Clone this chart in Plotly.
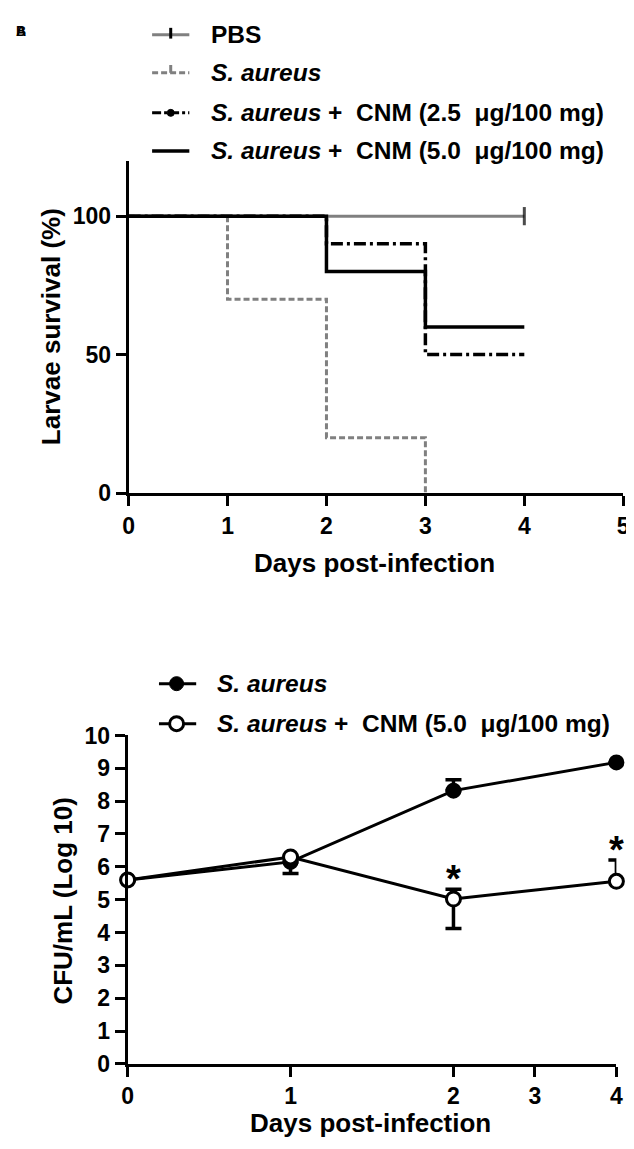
import numpy as np
import plotly.graph_objects as go

# ---------------- data ----------------
# Panel A: survival (%) of larvae
surv_days = [0, 1, 2, 3, 4]
pbs_surv = [100, 100, 100, 100, 100]
sa_days = [0, 1, 2, 3]
sa_surv = [100, 70, 20, 0]
cnm25_surv = [100, 100, 90, 50, 50]
cnm50_surv = [100, 100, 80, 60, 60]

# Panel B: CFU/mL (log10)
cfu_days = [0, 1, 2, 4]
sa_cfu = [5.6, 6.15, 8.32, 9.18]
sa_cfu_plus = [0, 0, 0.33, 0]
sa_cfu_minus = [0, 0.35, 0, 0]
cnm_cfu = [5.6, 6.3, 5.02, 5.56]
cnm_cfu_plus = [0, 0, 0.3, 0.65]
cnm_cfu_minus = [0, 0, 0.9, 0]
star_days = [2, 4]

top_xticks = [0, 1, 2, 3, 4, 5]
top_yticks = [0, 50, 100]
bot_xticks = [0, 1, 2, 3, 4]
bot_yticks = list(range(0, 11))

legend_a = ["<b>PBS</b>",
            "<b><i>S. aureus</i></b>",
            "<b><i>S. aureus</i> + \u00a0CNM (2.5 \u00a0\u03bcg/100 mg)</b>",
            "<b><i>S. aureus</i> + \u00a0CNM (5.0 \u00a0\u03bcg/100 mg)</b>"]
legend_b = ["<b><i>S. aureus</i></b>",
            "<b><i>S. aureus</i> + \u00a0CNM (5.0 \u00a0\u03bcg/100 mg)</b>"]

# the CFU x axis is drawn unevenly: days 0-2 wide, days 2-4 compressed
def bx(d):
    return np.interp(d, [0, 1, 2, 4], [0, 1, 2, 3])

W, H = 634, 1149
def px(x):
    return x / W
def py(y):
    return 1 - y / H

FONT = "Liberation Sans, Arial, sans-serif"
GREY = "#808080"
BLACK = "#000000"
TICK_FS = 23
TITLE_FS = 26
LEG_FS = 24.5

fig = go.Figure()

# ---------- Panel A traces ----------
fig.add_trace(go.Scatter(x=surv_days, y=pbs_surv, mode="lines+markers", line_shape="hv",
                         line=dict(color=GREY, width=3),
                         marker=dict(symbol="line-ns", size=[0, 0, 0, 0, 13],
                                     line=dict(color=BLACK, width=3)),
                         xaxis="x", yaxis="y", showlegend=False, cliponaxis=False))
fig.add_trace(go.Scatter(x=sa_days, y=sa_surv, mode="lines", line_shape="hv",
                         line=dict(color=GREY, width=3, dash="6px,3px"),
                         xaxis="x", yaxis="y", showlegend=False, cliponaxis=False))
fig.add_trace(go.Scatter(x=surv_days, y=cnm25_surv, mode="lines", line_shape="hv",
                         line=dict(color=BLACK, width=3.5, dash="12px,4px,3px,4px"),
                         xaxis="x", yaxis="y", showlegend=False, cliponaxis=False))
fig.add_trace(go.Scatter(x=surv_days, y=cnm50_surv, mode="lines", line_shape="hv",
                         line=dict(color=BLACK, width=3.5),
                         xaxis="x", yaxis="y", showlegend=False, cliponaxis=False))

# ---------- Panel B traces ----------
fig.add_trace(go.Scatter(x=bx(cfu_days), y=sa_cfu, mode="lines+markers",
                         line=dict(color=BLACK, width=3),
                         marker=dict(symbol="circle", size=14, color=BLACK,
                                     line=dict(color=BLACK, width=2)),
                         error_y=dict(type="data", array=sa_cfu_plus, arrayminus=sa_cfu_minus,
                                      symmetric=False, color=BLACK, thickness=3.5, width=8),
                         xaxis="x2", yaxis="y2", showlegend=False, cliponaxis=False))
fig.add_trace(go.Scatter(x=bx(cfu_days), y=cnm_cfu, mode="lines+markers",
                         line=dict(color=BLACK, width=3),
                         marker=dict(symbol="circle", size=14, color="white",
                                     line=dict(color=BLACK, width=3)),
                         error_y=dict(type="data", array=cnm_cfu_plus, arrayminus=cnm_cfu_minus,
                                      symmetric=False, color=BLACK, thickness=3.5, width=8),
                         xaxis="x2", yaxis="y2", showlegend=False, cliponaxis=False))

# significance stars above the CNM error bars
for d in star_days:
    k = cfu_days.index(d)
    fig.add_annotation(x=float(bx(d)), y=cnm_cfu[k] + cnm_cfu_plus[k], xref="x2", yref="y2",
                       text="<b>*</b>", showarrow=False, yanchor="middle", yshift=10,
                       font=dict(family=FONT, size=38, color=BLACK))

# ---------- manual legends ----------
shapes = []
def seg(y, color, dash=None, width=3, x0=141, x1=179):
    shapes.append(dict(type="line", xref="paper", yref="paper", x0=px(x0), x1=px(x1),
                       y0=py(y), y1=py(y), line=dict(color=color, width=width, dash=dash)))
def vtick(x, y0, y1, color=BLACK, width=3):
    shapes.append(dict(type="line", xref="paper", yref="paper", x0=px(x), x1=px(x),
                       y0=py(y0), y1=py(y1), line=dict(color=color, width=width)))
def dot(x, y, r, fill, lw):
    shapes.append(dict(type="circle", xref="paper", yref="paper", xsizemode="pixel",
                       ysizemode="pixel", xanchor=px(x), yanchor=py(y),
                       x0=-r, x1=r, y0=-r, y1=r, fillcolor=fill,
                       line=dict(color=BLACK, width=lw)))

rows_a = [14, 53, 94, 133]
seg(rows_a[0], GREY); vtick(160, rows_a[0] - 7, rows_a[0] + 4)
seg(rows_a[1], GREY, dash="6px,3px"); vtick(160, rows_a[1] - 8, rows_a[1], color=GREY)
seg(rows_a[2], BLACK, dash="9px,3px,3px,3px"); dot(160, rows_a[2], 3.5, BLACK, 1)
seg(rows_a[3], BLACK, width=3.5)
for y, t in zip(rows_a, legend_a):
    fig.add_annotation(x=px(199), y=py(y), xref="paper", yref="paper", text=t,
                       showarrow=False, xanchor="left", yanchor="middle",
                       font=dict(family=FONT, size=LEG_FS, color=BLACK))

rows_b = [678, 719]
seg(rows_b[0], BLACK, x0=148, x1=186); dot(166, rows_b[0], 7, BLACK, 1)
seg(rows_b[1], BLACK, x0=148, x1=186); dot(166, rows_b[1], 7, "white", 3)
for y, t in zip(rows_b, legend_b):
    fig.add_annotation(x=px(205), y=py(y), xref="paper", yref="paper", text=t,
                       showarrow=False, xanchor="left", yanchor="middle",
                       font=dict(family=FONT, size=LEG_FS, color=BLACK))

# axis titles
titles = [("<b>Larvae survival (%)</b>", 38, 313, -90),
          ("<b>Days post-infection</b>", 368, 555, 0),
          ("<b>CFU/mL (Log 10)</b>", 50, 900, -90),
          ("<b>Days post-infection</b>", 364, 1128, 0)]
for t, x, y, ang in titles:
    fig.add_annotation(x=px(x), y=py(y), xref="paper", yref="paper", text=t,
                       showarrow=False, xanchor="center", yanchor="middle", textangle=ang,
                       font=dict(family=FONT, size=TITLE_FS, color=BLACK))

# panel labels (overlapping as in the source)
for lab in ["A", "B"]:
    fig.add_annotation(x=0.0, y=1.0, xref="paper", yref="paper", text=f"<b>{lab}</b>",
                       showarrow=False, xanchor="left", yanchor="top",
                       font=dict(family=FONT, size=14, color=BLACK))

axis_common = dict(showline=True, linecolor=BLACK, linewidth=3, ticks="outside",
                   ticklen=10, tickwidth=3, tickcolor=BLACK, showgrid=False, zeroline=False,
                   tickfont=dict(family=FONT, size=TICK_FS, color=BLACK, weight="bold"))

fig.update_layout(
    width=W, height=H, margin=dict(l=0, r=0, t=0, b=0),
    paper_bgcolor="white", plot_bgcolor="white",
    font=dict(family=FONT, color=BLACK),
    showlegend=False,
    shapes=shapes,
    xaxis=dict(domain=[px(117), px(622)], range=[0, 5], tickvals=top_xticks,
               anchor="y", **axis_common),
    yaxis=dict(domain=[py(483), py(143)], range=[0, 120], tickvals=top_yticks,
               anchor="x", **axis_common),
    xaxis2=dict(domain=[px(116), px(615)], range=[0, 3],
                tickvals=[float(v) for v in bx(bot_xticks)],
                ticktext=[str(v) for v in bot_xticks], anchor="y2", **axis_common),
    yaxis2=dict(domain=[py(1067), py(731)], range=[0, 10], tickvals=bot_yticks,
                anchor="x2", **axis_common),
)

fig.write_html("out.html")
